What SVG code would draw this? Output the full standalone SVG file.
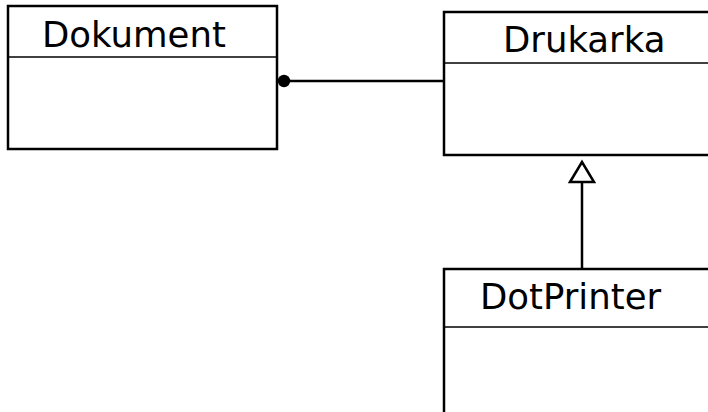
<svg xmlns="http://www.w3.org/2000/svg" width="708" height="412" viewBox="0 0 708 412">
  <style>
    .box { fill: #ffffff; stroke: #000000; stroke-width: 2.5; }
    .div { stroke: #000000; stroke-width: 1.5; }
    .name { font-family: "DejaVu Sans", sans-serif; font-size: 35.5px; fill: #000000; }
    .edge { fill: none; stroke: #000000; stroke-width: 2.5; }
    .head { fill: #ffffff; stroke: #000000; stroke-width: 2.5; }
  </style>
  <rect width="708" height="412" fill="#ffffff"/>

  <g id="edges">
    <!-- association with filled dot at Dokument end -->
    <line class="edge" x1="283" y1="81" x2="444" y2="81"/>
    <circle cx="284" cy="81" r="6.2" fill="#000000"/>
    <!-- generalization DotPrinter -> Drukarka -->
    <line class="edge" x1="582" y1="269" x2="582" y2="182"/>
    <path class="head" d="M570,182 L582,162 L594,182 Z"/>
  </g>

  <g id="dokument">
    <rect class="box" x="8" y="6" width="269" height="143"/>
    <line class="div" x1="8" y1="57" x2="277" y2="57"/>
    <text class="name" x="42" y="47">Dokument</text>
  </g>

  <g id="drukarka">
    <rect class="box" x="444" y="12" width="280" height="143"/>
    <line class="div" x1="444" y1="63" x2="708" y2="63"/>
    <text class="name" x="503" y="52">Drukarka</text>
  </g>

  <g id="dotprinter">
    <rect class="box" x="444" y="269" width="280" height="160"/>
    <line class="div" x1="444" y1="327" x2="708" y2="327"/>
    <text class="name" x="480" y="309">DotPrinter</text>
  </g>
</svg>
